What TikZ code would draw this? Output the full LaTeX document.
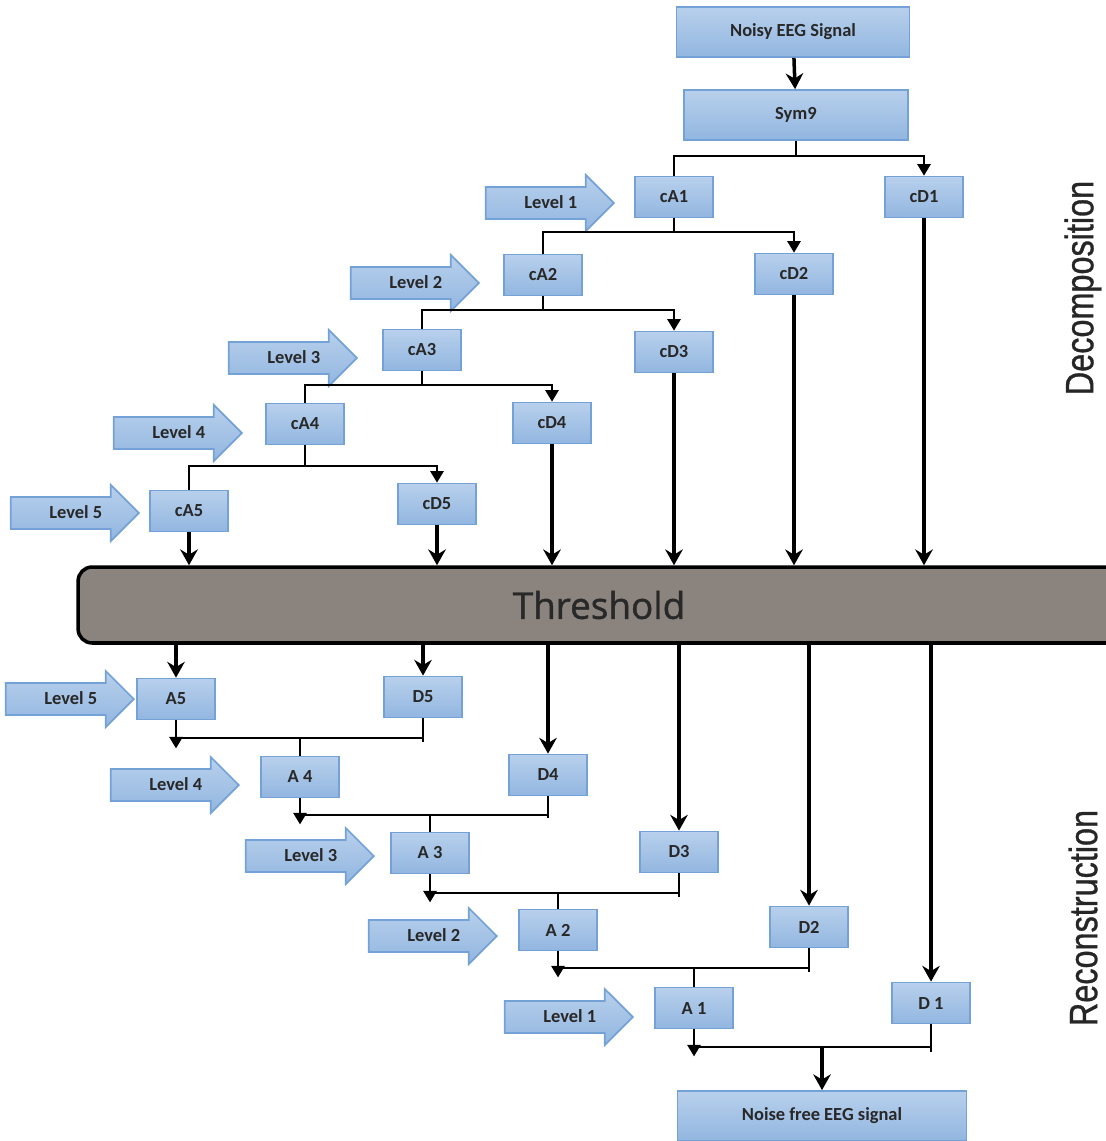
\documentclass[tikz,border=0pt]{standalone}
\usepackage{fontspec}
\setmainfont{Carlito}
\newfontfamily\threshfont[FakeBold=1.2]{Open Sans}
\newfontfamily\sidefont[FakeStretch=0.82,FakeBold=0.8]{Liberation Sans}
\usetikzlibrary{shapes.arrows,arrows.meta,calc}

\definecolor{boxtop}{RGB}{184,208,236}
\definecolor{boxbot}{RGB}{146,182,224}
\definecolor{boxline}{RGB}{116,162,214}
\definecolor{thrfill}{RGB}{138,131,126}
\definecolor{labtext}{RGB}{40,40,40}

\tikzset{
  coef/.style={draw=boxline, line width=1pt, top color=boxtop, bottom color=boxbot,
    text=labtext, font=\bfseries\fontsize{10.5}{12}\selectfont,
    minimum width=1.56cm, minimum height=0.82cm, inner sep=0pt},
  sigbox/.style={coef, minimum height=1cm},
  lvl/.style={single arrow, draw=boxline, line width=1pt, top color=boxtop, bottom color=boxbot,
    text=labtext, font=\bfseries\fontsize{10.5}{12}\selectfont,
    single arrow head extend=0.24cm, minimum height=2.56cm,
    text height=1.5ex, text depth=.3ex, inner ysep=0.15cm, inner xsep=0.1cm},
  link/.style={line width=1.1pt, black},
  linktip/.style={link, -{Triangle[length=6.5pt,width=7.5pt]}},
  heavy/.style={line width=2pt, black, -{Stealth[length=9pt,width=10pt,inset=3pt]}},
  side/.style={font=\sidefont\fontsize{22.5}{24}\selectfont, text=black!85, rotate=90}
}
\newcommand{\lvltext}[1]{\hspace*{0.36cm}#1}

\begin{document}
\begin{tikzpicture}[x=0.02cm,y=-0.02cm]
  \useasboundingbox (0,0) rectangle (1105,1141);

  % decomposition
  \node[sigbox, minimum width=4.66cm] (noisy) at (793,32) {Noisy EEG Signal};
  \node[sigbox, minimum width=4.48cm] (sym) at (796,115) {Sym9};
  \node[coef] (ca1) at (674,197) {cA1};
  \node[coef] (cd1) at (924,197) {cD1};
  \node[coef] (ca2) at (543,275) {cA2};
  \node[coef] (cd2) at (794,274) {cD2};
  \node[coef] (ca3) at (422,350) {cA3};
  \node[coef] (cd3) at (674,352) {cD3};
  \node[coef] (ca4) at (305,424) {cA4};
  \node[coef] (cd4) at (552,423) {cD4};
  \node[coef] (ca5) at (189,511) {cA5};
  \node[coef] (cd5) at (437,504) {cD5};

  \node[lvl, anchor=tip] (lu1) at (615,203) {\lvltext{Level 1}};
  \node[lvl, anchor=tip] (lu2) at (480,283) {\lvltext{Level 2}};
  \node[lvl, anchor=tip] (lu3) at (358,358) {\lvltext{Level 3}};
  \node[lvl, anchor=tip] (lu4) at (243,433) {\lvltext{Level 4}};
  \node[lvl, anchor=tip] (lu5) at (140,513) {\lvltext{Level 5}};

  \draw[heavy] (noisy) -- (sym);

  \coordinate (s0) at (796,156);
  \coordinate (s1) at (674,232);
  \coordinate (s2) at (543,310);
  \coordinate (s3) at (422,385);
  \coordinate (s4) at (305,466);
  \draw[link] (sym) -- (s0);
  \draw[link] (s0) -| (ca1);
  \draw[linktip] (s0) -| (cd1);
  \draw[link] (ca1) -- (s1);
  \draw[link] (s1) -| (ca2);
  \draw[linktip] (s1) -| (cd2);
  \draw[link] (ca2) -- (s2);
  \draw[link] (s2) -| (ca3);
  \draw[linktip] (s2) -| (cd3);
  \draw[link] (ca3) -- (s3);
  \draw[link] (s3) -| (ca4);
  \draw[linktip] (s3) -| (cd4);
  \draw[link] (ca4) -- (s4);
  \draw[link] (s4) -| (ca5);
  \draw[linktip] (s4) -| (cd5);

  % threshold
  \node[draw=black, line width=2pt, fill=thrfill, rounded corners=8pt,
    minimum width=20.84cm, minimum height=1.52cm, text=labtext,
    font=\threshfont\fontsize{21}{24}\selectfont] (thr) at (599,605) {Threshold};

  \draw[heavy] (ca5) -- (ca5 |- thr.north);
  \draw[heavy] (cd5) -- (cd5 |- thr.north);
  \draw[heavy] (cd4) -- (cd4 |- thr.north);
  \draw[heavy] (cd3) -- (cd3 |- thr.north);
  \draw[heavy] (cd2) -- (cd2 |- thr.north);
  \draw[heavy] (cd1) -- (cd1 |- thr.north);

  % reconstruction
  \node[coef] (a5) at (176,699) {A5};
  \node[coef] (d5) at (423,697) {D5};
  \node[coef] (a4) at (300,777) {A 4};
  \node[coef] (d4) at (548,775) {D4};
  \node[coef] (a3) at (430,853) {A 3};
  \node[coef] (d3) at (679,852) {D3};
  \node[coef] (a2) at (558,930) {A 2};
  \node[coef] (d2) at (809,927) {D2};
  \node[coef] (a1) at (694,1008) {A 1};
  \node[coef] (d1) at (931,1003) {D 1};
  \node[sigbox, minimum width=5.78cm] (clean) at (822,1116) {Noise free EEG signal};

  \node[lvl, anchor=tip] (ld5) at (135,699) {\lvltext{Level 5}};
  \node[lvl, anchor=tip] (ld4) at (240,785) {\lvltext{Level 4}};
  \node[lvl, anchor=tip] (ld3) at (375,856) {\lvltext{Level 3}};
  \node[lvl, anchor=tip] (ld2) at (498,936) {\lvltext{Level 2}};
  \node[lvl, anchor=tip] (ld1) at (634,1017) {\lvltext{Level 1}};

  \draw[heavy] (thr.south -| a5) -- (a5);
  \draw[heavy] (thr.south -| d5) -- (d5);
  \draw[heavy] (thr.south -| d4) -- (d4);
  \draw[heavy] (thr.south -| d3) -- (d3);
  \draw[heavy] (thr.south -| d2) -- (d2);
  \draw[heavy] (thr.south -| d1) -- (d1);

  \coordinate (r5) at (300,738);
  \coordinate (r4) at (430,815);
  \coordinate (r3) at (558,893);
  \coordinate (r2) at (694,968);
  \coordinate (r1) at (822,1047);
  \draw[link] (a5.south |- r5) -- (d5.south |- r5);
  \draw[linktip] (a5) -- ($(a5.south)+(0,28)$);
  \draw[link] (d5) -- ($(d5.south)+(0,24)$);
  \draw[link] (r5) -- (a4);
  \draw[link] (a4.south |- r4) -- (d4.south |- r4);
  \draw[linktip] (a4) -- ($(a4.south)+(0,26)$);
  \draw[link] (d4) -- ($(d4.south)+(0,22)$);
  \draw[link] (r4) -- (a3);
  \draw[link] (a3.south |- r3) -- (d3.south |- r3);
  \draw[linktip] (a3) -- ($(a3.south)+(0,28)$);
  \draw[link] (d3) -- ($(d3.south)+(0,24)$);
  \draw[link] (r3) -- (a2);
  \draw[link] (a2.south |- r2) -- (d2.south |- r2);
  \draw[linktip] (a2) -- ($(a2.south)+(0,26)$);
  \draw[link] (d2) -- ($(d2.south)+(0,24)$);
  \draw[link] (r2) -- (a1);
  \draw[link] (a1.south |- r1) -- (d1.south |- r1);
  \draw[linktip] (a1) -- ($(a1.south)+(0,27)$);
  \draw[link] (d1) -- ($(d1.south)+(0,28)$);
  \draw[heavy] (r1) -- (clean);

  % side labels
  \node[side] (dec) at (1083,288) {Decomposition};
  \node[side] (rec) at (1083,918) {Reconstruction};
\end{tikzpicture}
\end{document}
